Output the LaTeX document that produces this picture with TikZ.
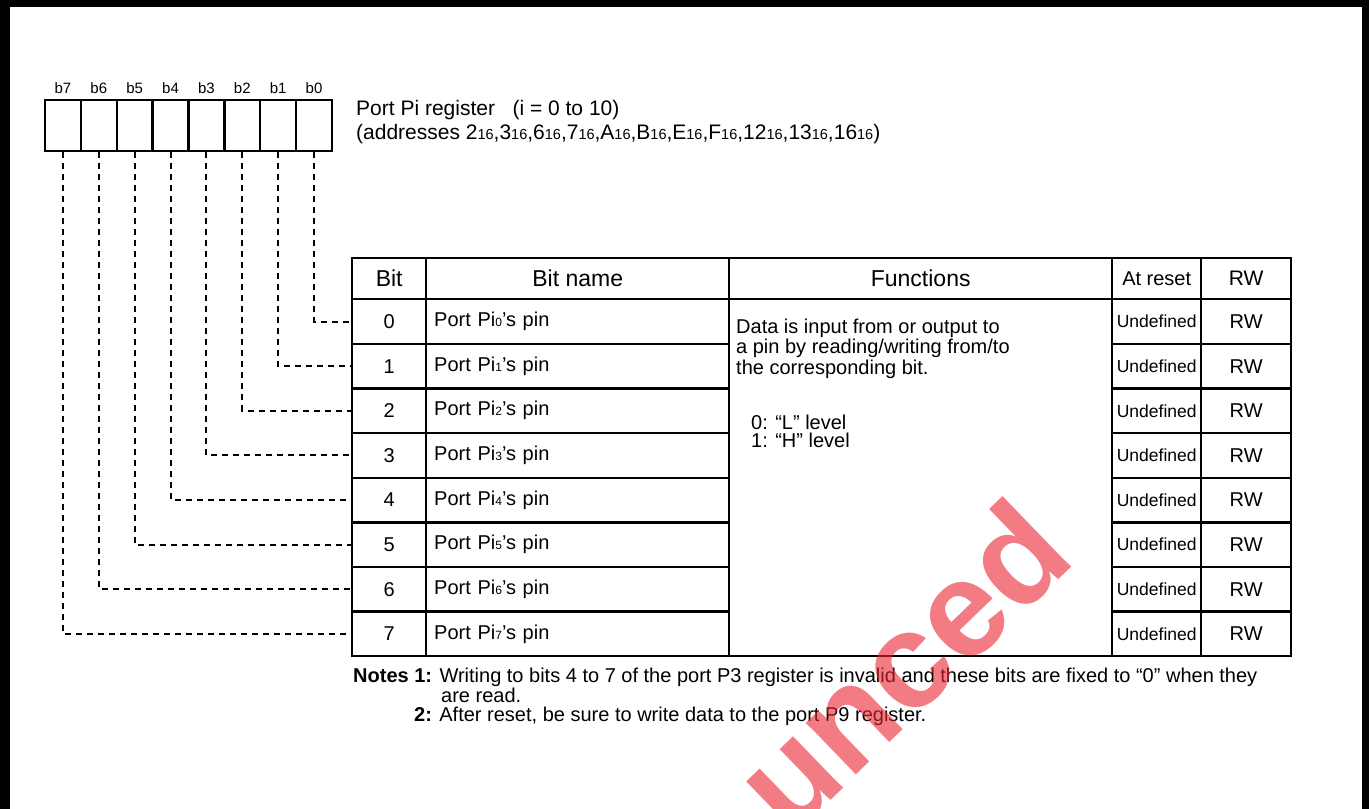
\documentclass[tikz,border=0pt]{standalone}
\usepackage{fontspec}
\setmainfont{Liberation Sans}
\definecolor{wmred}{RGB}{235,35,50}
\newcommand\subsm[1]{{\fontsize{12}{12}\selectfont #1}}
\newcommand\subad[1]{{\fontsize{14.5}{14.5}\selectfont #1}}
\begin{document}
\begin{tikzpicture}[x=1pt,y=-1pt,
  tline/.style={draw=black,line width=2.4pt},
  cellbox/.style={tline,inner sep=0pt,anchor=north west},
  regbox/.style={draw=black,line width=2.4pt,minimum width=35.875pt,minimum height=51pt,inner sep=0pt},
  blabel/.style={font=\fontsize{15}{15}\selectfont},
  hd/.style={font=\fontsize{23}{26}\selectfont},
  bd/.style={font=\fontsize{20}{23}\selectfont},
  sm/.style={font=\fontsize{17.5}{20}\selectfont},
  nt/.style={font=\fontsize{20}{23}\selectfont,anchor=base west,inner sep=0pt},
  txt/.style={bd,anchor=base west,inner sep=0pt},
  dashline/.style={line width=2pt,dash pattern=on 6pt off 5pt},
]
\useasboundingbox (0,0) rectangle (1369,809);
% frame
\fill[black] (0,0) rectangle (10,809);
\fill[black] (0,0) rectangle (1369,7);
\fill[black] (1362,0) rectangle (1369,809);

% register boxes
\foreach \j in {0,...,7}{
  \pgfmathtruncatemacro\bitn{7-\j}
  \node[regbox] (r\bitn) at ({45+35.875*(\j+0.5)},125.5) {};
  \node[blabel] (bl\bitn) at ({45+35.875*(\j+0.5)},88) {b\bitn};
}
\node[txt,font=\fontsize{21}{24}\selectfont] (t1) at (356,115) {Port Pi register\ \ \ (i = 0 to 10)};
\node[txt,font=\fontsize{21}{24}\selectfont] (t2) at (356,139) {(addresses 2\subad{16},3\subad{16},6\subad{16},7\subad{16},A\subad{16},B\subad{16},E\subad{16},F\subad{16},12\subad{16},13\subad{16},16\subad{16})};

% header
\node[cellbox,hd,minimum width=74pt,minimum height=41pt] (hbit) at (351,257) {Bit};
\node[cellbox,hd,minimum width=303pt,minimum height=41pt] (hname) at (425,257) {Bit name};
\node[cellbox,hd,minimum width=383pt,minimum height=41pt] (hfn) at (728,257) {Functions};
\node[cellbox,font=\fontsize{20}{23}\selectfont,minimum width=89pt,minimum height=41pt] (hrs) at (1111,257) {At reset};
\node[cellbox,font=\fontsize{21}{24}\selectfont,minimum width=90pt,minimum height=41pt] (hrw) at (1200,257) {RW};

% rows
\foreach \k in {0,...,7}{
  \node[cellbox,bd,minimum width=74pt,minimum height=44.625pt] (bit\k) at (351,{298+44.625*\k}) {\k};
  \node[cellbox,bd,minimum width=303pt,minimum height=44.625pt,text width=287pt,align=left,inner xsep=8pt] (nm\k) at (425,{298+44.625*\k}) {Port Pi\subsm{\k}’s pin};
  \node[cellbox,sm,minimum width=89pt,minimum height=44.625pt] (rs\k) at (1111,{298+44.625*\k}) {Undefined};
  \node[cellbox,bd,minimum width=90pt,minimum height=44.625pt] (rw\k) at (1200,{298+44.625*\k}) {RW};
  \draw[dashline] (r\k.south) |- (bit\k.west);
}
\node[cellbox,minimum width=383pt,minimum height=357pt] (fn) at (728,298) {};
\node[txt] (f1) at (736,333) {Data is input from or output to};
\node[txt] (f2) at (736,353.5) {a pin by reading/writing from/to};
\node[txt] (f3) at (736,374) {the corresponding bit.};
\node[txt] (f4) at (751,429) {0: “L” level};
\node[txt] (f5) at (751,447) {1: “H” level};

% notes
\node[nt] (n1) at (353,682) {\textbf{Notes 1:} Writing to bits 4 to 7 of the port P3 register is invalid and these bits are fixed to “0” when they};
\node[nt] (n1b) at (441,702) {are read.};
\node[nt] (n2) at (414,721) {\textbf{2:} After reset, be sure to write data to the port P9 register.};

% watermark (visible part)
\begin{scope}
\clip (0,0) rectangle (1369,809);
\node[anchor=base west,inner sep=0pt,rotate=44,text=wmred,opacity=0.6,font=\fontsize{136}{136}\bfseries\selectfont] (wm) at (790,839.5) {unced};
\end{scope}
\end{tikzpicture}
\end{document}
